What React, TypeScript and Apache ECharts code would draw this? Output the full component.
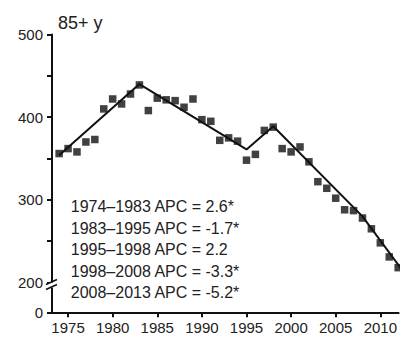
import React, { useEffect, useRef } from "react";
import * as echarts from "echarts";

const YEARS = [
  1974, 1975, 1976, 1977, 1978, 1979, 1980, 1981, 1982, 1983, 1984, 1985, 1986,
  1987, 1988, 1989, 1990, 1991, 1992, 1993, 1994, 1995, 1996, 1997, 1998, 1999,
  2000, 2001, 2002, 2003, 2004, 2005, 2006, 2007, 2008, 2009, 2010, 2011, 2012,
];
const RATES = [
  356, 362, 358, 370, 373, 410, 422, 416, 428, 439, 408, 423, 421, 420, 412, 422,
  397, 395, 372, 375, 371, 348, 355, 384, 388, 362, 358, 364, 346, 322, 314, 302,
  288, 287, 278, 265, 248, 231, 218,
];
const TREND_YEARS = [1974, 1983, 1995, 1998, 2008, 2013];
const TREND_VALUES = [354, 440, 361, 389, 280, 207];

const APC_PERIODS = ["1974–1983", "1983–1995", "1995–1998", "1998–2008", "2008–2013"];
const APC_VALUES = ["2.6*", "-1.7*", "2.2", "-3.3*", "-5.2*"];

const X_TICKS = [1975, 1980, 1985, 1990, 1995, 2000, 2005, 2010];
const Y_LABELS = [200, 300, 400, 500];
const Y_MINOR = [250, 350, 450];
const Y_ZERO_POS = 164; // axis position (below the break) labelled "0"
const Y_BREAK = 197;
const X_MIN = 1973.2;
const X_MAX = 2012.05;

const FONT = "'Liberation Sans', Arial, Helvetica, sans-serif";
const INK = "#111";
const TEXT = "#222";

export default function App() {
  const ref = useRef<HTMLDivElement>(null);
  useEffect(() => {
    if (!ref.current) return;
    const chart = echarts.init(ref.current, undefined, { renderer: "svg" });
    const yTickVals = [Y_ZERO_POS, ...Y_LABELS, ...Y_MINOR].sort((a, b) => a - b);
    chart.setOption({
      animation: false,
      textStyle: { fontFamily: FONT },
      title: {
        text: "85+ y",
        left: 53,
        top: 9,
        textStyle: { fontSize: 18, fontWeight: "normal", color: TEXT, fontFamily: FONT },
      },
      grid: { left: 52, top: 34.5, right: 0, bottom: 24.7, containLabel: false },
      xAxis: {
        type: "value",
        min: X_MIN,
        max: X_MAX,
        splitLine: { show: false },
        axisLine: { show: true, lineStyle: { color: INK, width: 2 } },
        axisTick: {
          show: true,
          inside: false,
          length: 5,
          lineStyle: { color: INK, width: 2 },
          customValues: X_TICKS,
        },
        axisLabel: {
          customValues: X_TICKS,
          fontSize: 15,
          color: TEXT,
          margin: 8,
          fontFamily: FONT,
          formatter: (v: number) => String(Math.round(v)),
        },
      },
      yAxis: {
        type: "value",
        min: Y_ZERO_POS,
        max: 500,
        splitLine: { show: false },
        axisLine: { show: true, lineStyle: { color: INK, width: 2 } },
        axisTick: {
          show: true,
          inside: false,
          length: 5,
          lineStyle: { color: INK, width: 2 },
          customValues: yTickVals,
        },
        axisLabel: {
          customValues: [Y_ZERO_POS, ...Y_LABELS],
          fontSize: 15,
          color: TEXT,
          margin: 9,
          fontFamily: FONT,
          formatter: (v: number) => (v < 200 ? "0" : String(Math.round(v))),
        },
      },
      series: [
        {
          type: "line",
          data: TREND_YEARS.map((y, i) => [y, TREND_VALUES[i]]),
          showSymbol: false,
          lineStyle: { color: INK, width: 2 },
          clip: true,
          z: 2,
        },
        {
          type: "scatter",
          data: YEARS.map((y, i) => [y, RATES[i]]),
          symbol: "rect",
          symbolSize: 7.5,
          itemStyle: { color: INK },
          clip: false,
          z: 3,
        },
      ],
    });

    const axisX = chart.convertToPixel({ xAxisIndex: 0 }, X_MIN) as number;
    const textLeft = chart.convertToPixel({ xAxisIndex: 0 }, 1975.3) as number;
    const breakY = chart.convertToPixel({ yAxisIndex: 0 }, Y_BREAK) as number;
    const firstLineY = chart.convertToPixel({ yAxisIndex: 0 }, 291.5) as number;
    const step = 21.5;

    chart.setOption({
      graphic: [
        {
          type: "rect",
          shape: { x: axisX - 3, y: breakY - 2.5, width: 6, height: 5 },
          style: { fill: "#fff" },
          z: 100,
        },
        {
          type: "line",
          shape: { x1: axisX - 6, y1: breakY - 0.5, x2: axisX + 5, y2: breakY - 5.5 },
          style: { stroke: INK, lineWidth: 1.6 },
          z: 101,
        },
        {
          type: "line",
          shape: { x1: axisX - 6, y1: breakY + 4.5, x2: axisX + 5, y2: breakY - 0.5 },
          style: { stroke: INK, lineWidth: 1.6 },
          z: 101,
        },
        ...APC_PERIODS.map((p, i) => ({
          type: "text",
          x: textLeft,
          y: firstLineY + i * step,
          style: {
            text: `${p} APC = ${APC_VALUES[i]}`,
            fontSize: 16,
            fontFamily: FONT,
            fill: TEXT,
            textVerticalAlign: "middle",
            verticalAlign: "middle",
          },
          z: 50,
        })),
      ],
    });

    return () => chart.dispose();
  }, []);
  return (
    <div
      ref={ref}
      style={{ position: "absolute", left: 0, top: 0, width: 400, height: 337 }}
    />
  );
}
